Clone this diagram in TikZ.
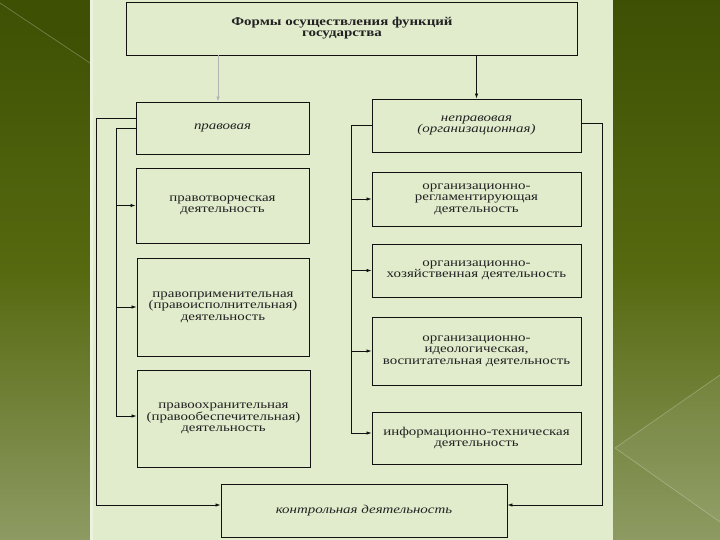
\documentclass[tikz,border=0pt]{standalone}
\usepackage{fontspec}
\setmainfont{Liberation Serif}[FakeStretch=1.25]
\usetikzlibrary{arrows.meta}
\definecolor{panel}{HTML}{E1ECCC}
\definecolor{bgtop}{HTML}{3D5004}
\definecolor{bgmid}{HTML}{56690F}
\definecolor{bgbot}{HTML}{8D9B63}
\definecolor{ink}{HTML}{111111}
\definecolor{txt}{HTML}{222222}
\tikzset{
  box/.style={draw=ink, line width=0.9bp, align=center, inner sep=2bp,
    font=\fontsize{12}{11.5}\selectfont, text=txt},
  conn/.style={draw=ink, line width=0.8bp},
  arr/.style={conn, -{Latex[length=5bp,width=3.5bp]}},
}
\begin{document}
\begin{tikzpicture}[x=1bp, y=-1bp]
\useasboundingbox (0,0) rectangle (720,540);
% background
\shade[top color=bgtop, bottom color=bgbot, middle color=bgmid] (0,0) rectangle (720,540);
\fill[bgtop, opacity=0.7] (0,0) -- (90,0) -- (90,63) -- (0,3) -- cycle;
\draw[white, opacity=0.25, line width=0.7bp] (0,3) -- (90,63);
\fill[white, opacity=0.06] (720,375) -- (615,448) -- (720,522) -- cycle;
\draw[white, opacity=0.25, line width=0.7bp] (720,375) -- (615,448) -- (720,522);
% panel
\fill[panel] (90,0) rectangle (613,540);
\fill[white, opacity=0.35] (90,0) rectangle (93,540);

% boxes
\node[box, minimum width=451bp, minimum height=53bp] (top) at (351.5,28.5) {};
\node[align=center, text=txt, font=\bfseries\fontsize{12}{11.5}\selectfont] (toptext) at (342,28)
  {Формы осуществления функций\\государства};
\node[box, minimum width=173bp, minimum height=52bp, font=\itshape\fontsize{12}{11.5}\selectfont] (prav) at (222.5,128) {правовая};
\node[box, minimum width=209bp, minimum height=53bp, font=\itshape\fontsize{12}{11.5}\selectfont] (neprav) at (476.5,125.5)
  {неправовая\\(организационная)};
\node[box, minimum width=173bp, minimum height=75bp] (tvor) at (222.5,205.5)
  {правотворческая\\деятельность};
\node[box, minimum width=209bp, minimum height=54bp] (regl) at (476.5,199)
  {организационно-\\регламентирующая\\деятельность};
\node[box, minimum width=209bp, minimum height=53bp] (khoz) at (476.5,270.5)
  {организационно-\\хозяйственная деятельность};
\node[box, minimum width=172bp, minimum height=98bp] (primen) at (223,307)
  {правоприменительная\\(правоисполнительная)\\деятельность};
\node[box, minimum width=209bp, minimum height=68bp] (ideol) at (476.5,351)
  {организационно-\\идеологическая,\\воспитательная деятельность};
\node[box, minimum width=173bp, minimum height=97bp] (okhran) at (223.5,418.5)
  {правоохранительная\\(правообеспечительная)\\деятельность};
\node[box, minimum width=209bp, minimum height=52bp] (inform) at (476.5,438)
  {информационно-техническая\\деятельность};
\node[box, minimum width=286bp, minimum height=53bp, font=\itshape\fontsize{12}{11.5}\selectfont] (kontr) at (364,510.5)
  {контрольная деятельность};

% connectors from the title box
\draw[arr, draw=gray!60] ([xshift=-4.5bp]prav.north |- top.south) -- ([xshift=-4.5bp]prav.north);
\draw[arr] (neprav.north |- top.south) -- (neprav.north);

% left outer bus: правовая -> контрольная
\draw[arr] ([yshift=10bp]prav.west) -- ++(-39,0) |- ([yshift=5.5bp]kontr.west);
% left inner bus
\draw[arr] (prav.west) -- ++(-19,0) coordinate (bl) |- ([yshift=2.5bp]okhran.west);
\draw[arr] (bl |- tvor.west) -- (tvor.west);
\draw[arr] (bl |- primen.west) -- (primen.west);

% right inner bus
\draw[arr] (neprav.west) -- ++(-20,0) coordinate (br) |- ([yshift=5bp]inform.west);
\draw[arr] (br |- regl.west) -- (regl.west);
\draw[arr] (br |- khoz.west) -- (khoz.west);
\draw[arr] (br |- ideol.west) -- (ideol.west);

% right outer bus: неправовая -> контрольная
\draw[arr] ([yshift=2.5bp]neprav.east) -- ++(21,0) |- ([yshift=5.5bp]kontr.east);
\end{tikzpicture}
\end{document}
